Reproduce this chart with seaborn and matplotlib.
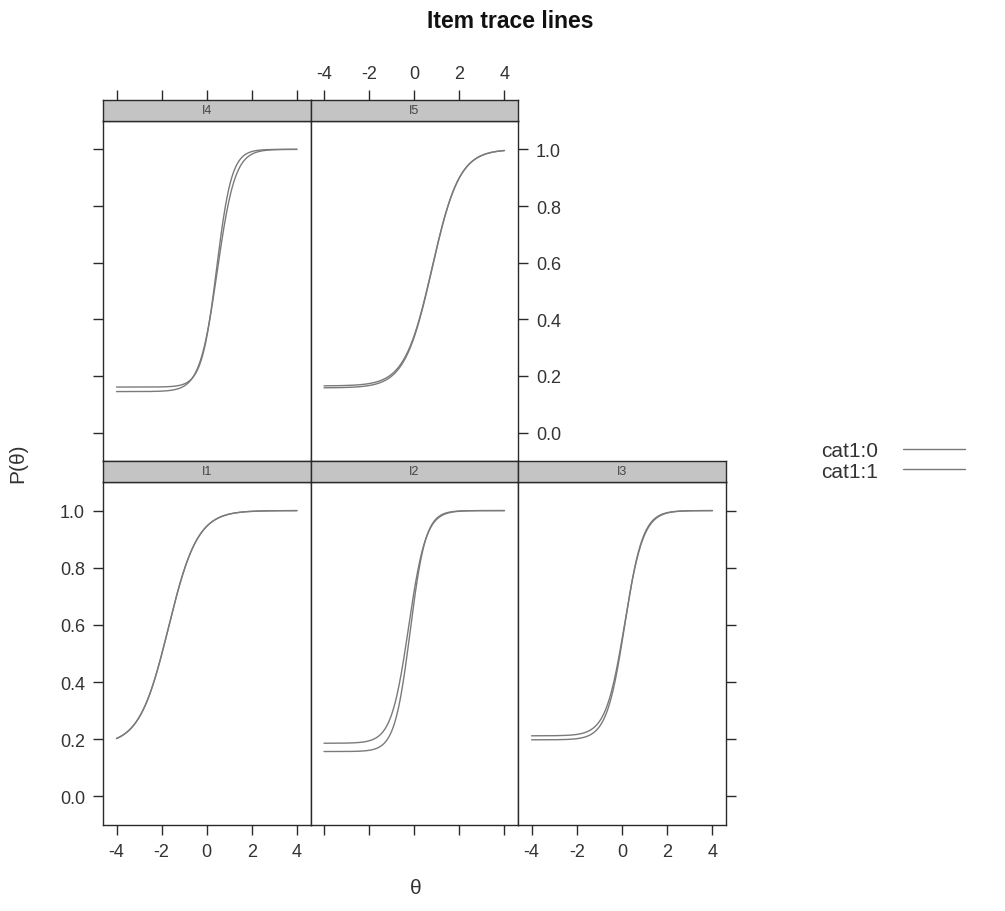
import numpy as np
import pandas as pd
import matplotlib
matplotlib.use("Agg")
import matplotlib.pyplot as plt
import seaborn as sns
from matplotlib.lines import Line2D

# ---- data (item parameters) ----
items = ["I1", "I2", "I3", "I4", "I5"]
groups = ["cat1:0", "cat1:1"]
slope_cat0 = [1.55, 2.60, 2.40, 3.00, 1.65]
loc_cat0 = [-1.70, -0.25, 0.12, 0.44, 0.79]
guess_cat0 = [0.180, 0.186, 0.212, 0.161, 0.165]
slope_cat1 = [1.55, 2.90, 2.50, 2.55, 1.65]
loc_cat1 = [-1.70, -0.18, 0.12, 0.47, 0.79]
guess_cat1 = [0.180, 0.157, 0.198, 0.145, 0.158]
theta_min, theta_max = -4, 4
x_ticks = [-4, -2, 0, 2, 4]
y_ticks = [0.0, 0.2, 0.4, 0.6, 0.8, 1.0]

theta = np.linspace(theta_min, theta_max, 241)
params = {"cat1:0": (slope_cat0, loc_cat0, guess_cat0),
          "cat1:1": (slope_cat1, loc_cat1, guess_cat1)}
rows = []
for g in groups:
    sl, lo, gu = params[g]
    for i, it in enumerate(items):
        p = gu[i] + (1 - gu[i]) / (1 + np.exp(-sl[i] * (theta - lo[i])))
        for t, v in zip(theta, p):
            rows.append((it, g, t, v))
df = pd.DataFrame(rows, columns=["item", "group", "theta", "P"])

# ---- figure ----
sns.set_theme(style="white")
plt.rcParams['font.family'] = ['Liberation Sans', 'DejaVu Sans']
plt.rcParams['axes.unicode_minus'] = False
W, H = 1005, 912
fig = plt.figure(figsize=(W / 100, H / 100), dpi=100)


def rect(x0, y0, x1, y1):
    return [x0 / W, 1 - y1 / H, (x1 - x0) / W, (y1 - y0) / H]


cols = [(103, 310.5), (310.5, 518), (518, 726)]
row_geo = {0: ((101, 122), (122, 462)), 1: ((462, 483), (483, 826))}
layout = {"I4": (0, 0), "I5": (0, 1), "I1": (1, 0), "I2": (1, 1), "I3": (1, 2)}

line_col = "#7a7a7a"
frame_col = "#2a2a2a"
text_col = "#333333"
tick_fs = 13

for it, (r, c) in layout.items():
    (sy0, sy1), (py0, py1) = row_geo[r]
    x0, x1 = cols[c]
    ax = fig.add_axes(rect(x0, py0, x1, py1))
    sub = df[df["item"] == it]
    sns.lineplot(data=sub, x="theta", y="P", hue="group", hue_order=groups,
                 palette=[line_col, line_col], legend=False, ax=ax,
                 linewidth=1.0, estimator=None)
    ax.set_xlim(-4.6, 4.6)
    ax.set_ylim(-0.1, 1.1)
    ax.set_xlabel("")
    ax.set_ylabel("")
    ax.set_xticks(x_ticks)
    ax.set_yticks(y_ticks)
    ax.set_yticklabels([f"{v:.1f}" for v in y_ticks])
    for s in ax.spines.values():
        s.set_color(frame_col)
        s.set_linewidth(1.0)
    ax.tick_params(direction="out", length=7, width=1, colors=frame_col,
                   labelcolor=text_col, labelsize=tick_fs, pad=6)
    bottom = (r == 1)
    left = (c == 0)
    right = (r == 0 and c == 1) or (r == 1 and c == 2)
    ax.tick_params(bottom=bottom, labelbottom=bottom and c in (0, 2),
                   top=False, labeltop=False,
                   left=left, labelleft=left and r == 1,
                   right=right, labelright=(r == 0 and c == 1))

    sax = fig.add_axes(rect(x0, sy0, x1, sy1))
    sax.set_facecolor("#c4c4c4")
    sax.set_xlim(-4.6, 4.6)
    sax.set_ylim(0, 1)
    sax.set_yticks([])
    for s in sax.spines.values():
        s.set_color(frame_col)
        s.set_linewidth(1.0)
    sax.text(0.5, 0.5, it, transform=sax.transAxes, ha="center", va="center",
             fontsize=9, color="#444444")
    sax.set_xticks(x_ticks)
    sax.tick_params(direction="out", length=7, width=1, colors=frame_col,
                    labelcolor=text_col, labelsize=tick_fs, pad=6,
                    bottom=False, labelbottom=False,
                    top=(r == 0), labeltop=(r == 0 and c == 1))

fig.text(510 / W, 1 - 22 / H, "Item trace lines", ha="center", va="center",
         fontsize=16.5, fontweight="bold", color="#111111")
fig.text(18 / W, 1 - 463 / H, "P(θ)", ha="center", va="center", rotation=90,
         fontsize=15, color=text_col)
fig.text(416 / W, 1 - 889 / H, "θ", ha="center", va="center",
         fontsize=15, color=text_col)

handles = [Line2D([], [], color=line_col, lw=1.0) for _ in groups]
fig.legend(handles=handles, labels=groups, loc="center left",
           bbox_to_anchor=(802 / W, 1 - 462 / H), frameon=False,
           markerfirst=False, fontsize=15, handlelength=3.0,
           handletextpad=1.2, labelspacing=0.05, labelcolor=text_col)

fig.savefig("out.png", dpi=100)
